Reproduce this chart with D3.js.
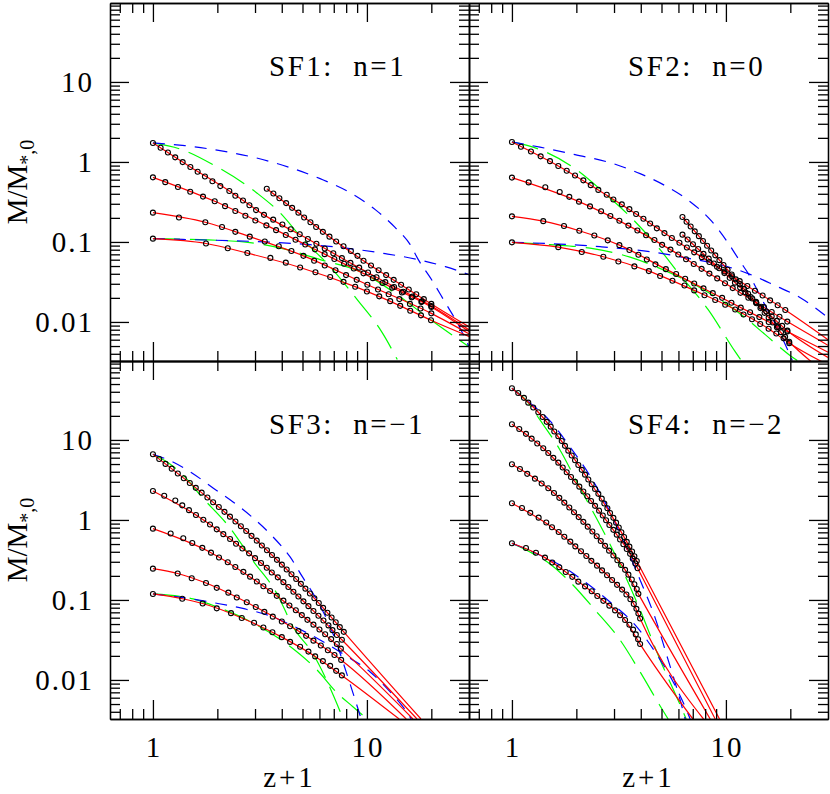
<!DOCTYPE html>
<html>
<head>
<meta charset="utf-8">
<script src="https://cdn.jsdelivr.net/npm/d3@7"></script>
<style>
  body { margin: 0; background: #fff; }
  text { font-family: "Liberation Serif", "Times New Roman", Times, serif; fill: #000; }
</style>
</head>
<body>
<svg id="chart" width="830" height="794"></svg>
<script>
// ---- axis ticks and labels ----
const xMajor = [1, 10];
const xMajorLabels = ["1", "10"];
const xMinor = [0.7, 0.8, 0.9, 2, 3, 4, 5, 6, 7, 8, 9, 20];
const yMajor = [0.01, 0.1, 1, 10];
const yMajorLabels = ["0.01", "0.1", "1", "10"];
const yMinor = [0.004, 0.005, 0.006, 0.007, 0.008, 0.009,
  0.02, 0.03, 0.04, 0.05, 0.06, 0.07, 0.08, 0.09,
  0.2, 0.3, 0.4, 0.5, 0.6, 0.7, 0.8, 0.9,
  2, 3, 4, 5, 6, 7, 8, 9,
  20, 30, 40, 50, 60, 70, 80, 90];
const titles = ["SF1:  n=1", "SF2:  n=0", "SF3:  n=\u22121", "SF4:  n=\u22122"];

// ---- SF1 ----
const sf1aX = [1,1.086,1.175,1.271,1.377,1.496,1.618,1.75,1.897,2.065,2.275,2.427,2.636,2.825,3.034,3.304,3.648,4.027,4.406,4.853,5.297,5.808,6.353,6.966,7.638,8.375,9.204,10.12,11.09,12.19,13.4,14.79,16.33,18.07,20.0];
const sf1aY = [1.728,1.505,1.311,1.142,0.995,0.866,0.755,0.657,0.573,0.499,0.434,0.378,0.33,0.287,0.25,0.218,0.19,0.165,0.144,0.125,0.109,0.0951,0.0828,0.0721,0.0628,0.0547,0.0477,0.0415,0.0362,0.0315,0.0274,0.0239,0.0208,0.0181,0.0158];
const sf1aFit = [[1,1.728],[1.496,0.866],[2.275,0.434],[3.304,0.218],[5.297,0.109],[8.375,0.0547],[12.19,0.0315],[20,0.0158],[30,0.008]];
const sf1bX = [1,1.142,1.309,1.494,1.714,1.944,2.173,2.427,2.704,3.01,3.39,3.763,4.178,4.639,5.15,5.716,6.346,7.045,7.822,8.684,9.64,10.66,11.83,13.14,14.58,16.19,17.97,20.01];
const sf1bY = [0.642,0.559,0.487,0.424,0.369,0.322,0.28,0.244,0.2126,0.185,0.161,0.1404,0.1223,0.1065,0.0928,0.0808,0.0704,0.0613,0.0534,0.0465,0.0405,0.0353,0.0307,0.0268,0.0233,0.0203,0.0177,0.0154];
const sf1bFit = [[1,0.642],[1.944,0.322],[3.39,0.161],[6.346,0.0704],[11.83,0.0307],[20,0.0154],[30,0.0076]];
const sf1cX = [1,1.323,1.757,2.103,2.427,2.835,3.332,3.874,4.438,5.05,5.667,6.353,7.131,7.991,8.96,10.05,11.27,12.64,14.18,15.89,17.81,20.0];
const sf1cY = [0.2323,0.2023,0.1762,0.1535,0.1337,0.1164,0.1014,0.0883,0.0769,0.067,0.0583,0.0508,0.0443,0.0385,0.0336,0.0292,0.0255,0.0222,0.0193,0.0168,0.0147,0.0128];
const sf1cFit = [[1,0.2323],[1.757,0.1762],[2.835,0.1164],[5.05,0.067],[10.05,0.0292],[20,0.0128],[30,0.0071]];
const sf1dX = [1,1.77,2.237,2.762,3.539,4.178,4.874,5.748,6.734,7.773,8.816,10,11.42,12.85,14.31,15.94,17.89,19.93];
const sf1dY = [0.1099,0.0957,0.0834,0.0726,0.0632,0.0551,0.048,0.0418,0.0364,0.0317,0.0276,0.024,0.0209,0.0182,0.0159,0.0138,0.0121,0.0105];
const sf1dFit = [[1,0.1099],[1.77,0.0957],[2.762,0.0726],[4.874,0.048],[8.816,0.0276],[14.31,0.0159],[19.93,0.0105],[30,0.0066]];
const sf1eX = [3.404,3.655,3.899,4.193,4.472,4.785,5.089,5.446,5.79,6.225,6.683,7.183,7.773,8.417,9.036,9.641,10.45,11.34,12.3,13.34,14.45,15.69,17.01,18.45,20.0];
const sf1eY = [0.463,0.404,0.352,0.306,0.267,0.2323,0.2023,0.1762,0.1535,0.1337,0.1164,0.1014,0.0883,0.0769,0.067,0.0583,0.0508,0.0443,0.0385,0.0336,0.0292,0.0255,0.0222,0.0193,0.0168];
const sf1eFit = [[3.404,0.463],[4.785,0.2323],[6.683,0.1164],[9.641,0.0583],[14.45,0.0292],[20,0.0168],[30,0.0087]];
const sf1BlueA = [[1,1.728],[1.411,1.599],[2.059,1.385],[3.002,1.132],[4.376,0.849],[6.045,0.618],[8.354,0.413],[10.94,0.2533],[13.57,0.151],[15.94,0.0925],[17.38,0.0601],[19.78,0.0358],[23.25,0.0174],[26.75,0.00925],[30,0.0049]];
const sf1BlueB = [[1,0.11],[1.489,0.1069],[2.293,0.1038],[3.528,0.0994],[5.428,0.0925],[8.354,0.0824],[12.18,0.0714],[17.38,0.0601],[23.25,0.0491],[30,0.039]];
const sf1GreenA = [[1,1.728],[1.367,1.425],[1.909,0.925],[3.058,0.41],[3.929,0.2312],[5.034,0.107],[6.734,0.0491],[9.008,0.019],[11.79,0.00735],[13.86,0.0034]];
const sf1GreenB = [[1,0.11],[1.66,0.1069],[2.843,0.098],[4.236,0.0801],[6.045,0.0601],[9.305,0.0425],[13.86,0.0219],[19.78,0.0107],[30,0.0049]];

// ---- SF2 ----
const sf2aX = [1,1.102,1.227,1.362,1.506,1.647,1.803,1.972,2.156,2.335,2.534,2.774,2.979,3.262,3.539,3.805,4.116,4.424,4.756,5.161,5.589,6.065,6.57,7.108,7.716,8.372,9.088,9.851,10.69,11.6,12.59,13.67,14.84,16.09,17.46,18.95];
const sf2aY = [1.778,1.549,1.349,1.175,1.023,0.891,0.776,0.676,0.589,0.513,0.447,0.389,0.339,0.295,0.257,0.224,0.195,0.17,0.148,0.129,0.112,0.0977,0.0851,0.0741,0.0646,0.0562,0.049,0.0427,0.0372,0.0324,0.0282,0.0245,0.0214,0.0186,0.0162,0.0141];
const sf2aFit = [[1,1.778],[1.647,0.891],[2.534,0.447],[3.805,0.224],[5.589,0.112],[8.372,0.0562],[12.59,0.0282],[18.95,0.0141],[30,0.006]];
const sf2bX = [1,1.197,1.432,1.672,1.854,2.058,2.317,2.61,2.884,3.178,3.501,3.857,4.236,4.634,5.034,5.505,5.99,6.512,7.076,7.697,8.372,9.107,9.904,10.76,11.7,12.73,13.85,15.06,16.37,17.8,19.36];
const sf2bY = [0.637,0.555,0.483,0.421,0.366,0.319,0.278,0.242,0.211,0.1837,0.16,0.1393,0.1213,0.1057,0.092,0.0802,0.0698,0.0608,0.053,0.0461,0.0402,0.035,0.0305,0.0265,0.0231,0.0201,0.0175,0.0153,0.0133,0.0116,0.0101];
const sf2bFit = [[1,0.637],[2.058,0.319],[3.501,0.16],[5.505,0.0802],[8.372,0.0402],[12.73,0.0201],[19.36,0.0101],[30,0.0051]];
const sf2cX = [1,1.401,1.751,2.065,2.427,2.804,3.178,3.54,3.899,4.269,4.685,5.24,5.853,6.45,7.108,7.857,8.684,9.601,10.61,11.73,12.97,14.33,15.85,17.51,19.36];
const sf2cY = [0.209,0.182,0.1585,0.138,0.1202,0.1047,0.0912,0.0794,0.0692,0.0603,0.0525,0.0457,0.0398,0.0347,0.0302,0.0263,0.0229,0.02,0.0174,0.0151,0.0132,0.0115,0.01,0.0087,0.00759];
const sf2cFit = [[1,0.209],[1.401,0.182],[2.065,0.138],[3.178,0.0912],[5.24,0.0457],[8.684,0.0229],[14.33,0.0115],[19.36,0.00759],[30,0.0042]];
const sf2dX = [1,1.647,2.12,2.674,3.144,3.735,4.363,4.927,5.625,6.403,7.108,7.943,8.913,9.924,11.05,12.09,13.24,14.47,15.83,17.2,18.6,19.78];
const sf2dY = [0.0989,0.0861,0.075,0.0653,0.0569,0.0495,0.0432,0.0376,0.0327,0.0285,0.0248,0.0216,0.0188,0.0164,0.0143,0.0124,0.0108,0.00944,0.00822,0.00716,0.00624,0.00543];
const sf2dFit = [[1,0.0989],[1.647,0.0861],[2.674,0.0653],[4.363,0.0432],[7.108,0.0248],[11.05,0.0143],[15.83,0.00822],[19.78,0.00543],[28,0.0032]];
const sf2eX = [6.265,6.548,6.843,7.152,7.476,7.813,8.166,8.535,8.92,9.324,9.745,10.18,10.64,11.12,11.63,12.15,12.7,13.28,13.88,14.5,15.16,15.84,16.56,17.31,18.09,18.91,19.76];
const sf2eY = [0.2054,0.1789,0.1558,0.1357,0.1181,0.1029,0.0896,0.0781,0.068,0.0592,0.0516,0.0449,0.0391,0.0341,0.0297,0.0259,0.0225,0.0196,0.0171,0.0149,0.013,0.0113,0.00983,0.00856,0.00746,0.0065,0.00566];
const sf2eFit = [[6.265,0.2054],[7.813,0.1029],[9.745,0.0516],[12.15,0.0259],[15.16,0.013],[19.76,0.00566],[25,0.0032]];
const sf2fX = [6.266,6.625,7.015,7.419,7.856,8.31,8.788,9.305,9.84,10.42,11.02,11.65,12.34,13.05,13.82,14.61,15.45,16.37,17.31,18.32,19.38];
const sf2fY = [0.1233,0.1074,0.0935,0.0815,0.071,0.0618,0.0538,0.0469,0.0408,0.0356,0.031,0.027,0.0235,0.0205,0.0178,0.0155,0.0135,0.0118,0.0103,0.00893,0.00778];
const sf2fFit = [[6.266,0.1233],[8.31,0.0618],[11.02,0.031],[14.61,0.0155],[19.38,0.00778],[30,0.0036]];
const sf2BlueA = [[1,1.778],[1.352,1.531],[1.972,1.234],[2.874,0.98],[3.972,0.714],[5.2,0.5054],[6.808,0.3189],[8.445,0.19],[10.14,0.1009],[11.67,0.0567],[12.72,0.0402],[15.27,0.016],[17.57,0.008],[20.43,0.0033]];
const sf2BlueB = [[1,0.0989],[1.506,0.0952],[2.581,0.0873],[4.424,0.0756],[6.808,0.0618],[9.404,0.052],[12.72,0.0402],[17.01,0.0284],[22.27,0.0201],[30,0.0113]];
const sf2GreenA = [[1,1.778],[1.352,1.425],[1.972,0.8246],[2.695,0.4133],[3.724,0.1846],[4.927,0.0801],[5.981,0.0413],[8.263,0.01425],[11.05,0.00425],[11.79,0.0033]];
const sf2GreenB = [[1,0.0989],[1.506,0.0925],[2.317,0.0836],[3.566,0.0646],[5.2,0.0438],[7.58,0.0268],[9.714,0.0179],[12.31,0.0113],[15.27,0.00694],[20.0,0.00379],[21.56,0.0033]];

// ---- SF3 ----
const sf3aX = [1,1.07,1.145,1.224,1.307,1.394,1.487,1.586,1.689,1.797,1.911,2.032,2.159,2.291,2.43,2.576,2.729,2.888,3.055,3.229,3.411,3.6,3.798,4.004,4.218,4.441,4.672,4.913,5.159,5.416,5.682,5.958,6.243,6.536,6.838,7.149,7.469,7.797];
const sf3aY = [6.62,5.77,5.02,4.375,3.81,3.32,2.89,2.518,2.193,1.91,1.663,1.449,1.262,1.099,0.957,0.834,0.726,0.632,0.551,0.48,0.418,0.364,0.317,0.276,0.2404,0.2094,0.1824,0.1589,0.1384,0.1205,0.105,0.0914,0.0796,0.0693,0.0604,0.0526,0.0458,0.0399];
const sf3aFit = [[1,6.62],[1.586,2.518],[2.43,0.957],[3.411,0.418],[4.672,0.1824],[6.243,0.0796],[7.797,0.0399],[17.89,0.00325]];
const sf3bX = [1,1.129,1.272,1.371,1.474,1.589,1.72,1.848,1.987,2.133,2.293,2.446,2.618,2.814,3.001,3.2,3.404,3.593,3.833,4.071,4.296,4.534,4.785,5.05,5.33,5.625,5.936,6.265,6.612,6.902,7.237,7.638];
const sf3bY = [2.304,2.007,1.748,1.522,1.326,1.155,1.006,0.876,0.763,0.6646,0.5788,0.5041,0.439,0.3824,0.333,0.29,0.2526,0.22,0.1916,0.1669,0.1453,0.1266,0.1103,0.0961,0.0837,0.0729,0.0635,0.0553,0.0481,0.0419,0.0365,0.0318];
const sf3bFit = [[1,2.304],[1.589,1.155],[2.293,0.5788],[3.2,0.29],[4.296,0.1453],[5.625,0.0729],[7.638,0.0318],[17.14,0.00325]];
const sf3cX = [1,1.21,1.386,1.527,1.701,1.868,2.036,2.237,2.427,2.646,2.844,3.058,3.282,3.528,3.792,4.071,4.343,4.654,4.963,5.272,5.625,6.001,6.381,6.806,7.237,7.556];
const sf3cY = [0.778,0.6776,0.5902,0.514,0.4477,0.39,0.3396,0.2958,0.2576,0.2244,0.1954,0.1702,0.1483,0.1291,0.1125,0.098,0.0853,0.0743,0.0647,0.0564,0.0491,0.0428,0.0372,0.0324,0.0282,0.0246];
const sf3cFit = [[1,0.778],[1.868,0.39],[3.058,0.1702],[4.343,0.0853],[5.625,0.0491],[7.556,0.0246],[16.42,0.00325]];
const sf3dX = [1,1.305,1.518,1.77,1.987,2.251,2.465,2.745,3.024,3.317,3.632,4.002,4.376,4.785,5.2,5.625,6.09,6.57,7.053,7.58];
const sf3dY = [0.246,0.2143,0.1866,0.1626,0.1416,0.1233,0.1074,0.0935,0.0815,0.071,0.0618,0.0538,0.0469,0.0408,0.0356,0.031,0.027,0.0235,0.0205,0.0178];
const sf3dFit = [[1,0.246],[1.305,0.2143],[1.77,0.1626],[3.024,0.0815],[4.785,0.0408],[7.58,0.0178],[15.27,0.00325]];
const sf3eX = [1,1.371,1.708,1.987,2.317,2.601,2.969,3.282,3.617,4.002,4.376,4.874,5.33,5.73,6.225,6.734,7.183,7.638];
const sf3eY = [0.1189,0.1035,0.0902,0.0785,0.0684,0.0596,0.0519,0.0452,0.0394,0.0343,0.0299,0.026,0.0226,0.0197,0.0172,0.015,0.013,0.0114];
const sf3eFit = [[1,0.1189],[1.371,0.1035],[1.708,0.0902],[2.601,0.0596],[4.002,0.0343],[5.73,0.0197],[7.638,0.0114],[14.16,0.00325]];
const sf3BlueA = [[1,6.62],[1.24,5.31],[1.522,3.868],[1.909,2.512],[2.368,1.679],[2.938,1.059],[3.643,0.613],[4.376,0.3447],[5.034,0.1884],[5.73,0.109],[6.451,0.0596],[7.183,0.0299],[8.0,0.0126],[8.816,0.00562],[9.404,0.00325]];
const sf3BlueB = [[1,0.1189],[1.411,0.1059],[1.95,0.0917],[2.695,0.0772],[3.528,0.0631],[4.618,0.046],[6.045,0.0316],[8.0,0.01995],[10.36,0.0126],[12.85,0.00708],[15.11,0.00422],[16.12,0.00325]];
const sf3GreenA = [[1,6.62],[1.201,5.012],[1.411,3.447],[1.66,2.054],[2.293,0.794],[2.938,0.3073],[3.804,0.1189],[4.52,0.046],[5.607,0.0211],[6.956,0.0065],[7.747,0.00325]];
const sf3GreenB = [[1,0.1189],[1.539,0.1029],[1.993,0.0818],[2.938,0.0516],[4.282,0.0274],[5.852,0.0133],[7.261,0.00688],[8.628,0.0046],[10.03,0.00325]];

// ---- SF4 ----
const sf4aX = [1,1.07,1.138,1.192,1.258,1.328,1.392,1.454,1.518,1.577,1.647,1.709,1.77,1.834,1.903,1.972,2.043,2.12,2.196,2.275,2.36,2.446,2.534,2.629,2.703,2.793,2.874,2.979,3.067,3.157,3.247,3.343,3.441,3.539,3.643,3.735,3.832];
const sf4aY = [44.26,38.55,33.57,29.24,25.47,22.18,19.32,16.83,14.66,12.76,11.12,9.683,8.433,7.345,6.397,5.572,4.853,4.227,3.681,3.206,2.793,2.432,2.118,1.845,1.607,1.4,1.219,1.062,0.9247,0.8054,0.7015,0.6109,0.5321,0.4634,0.4036,0.3516,0.3062];
const sf4aFit = [[1,44.26],[1.328,22.18],[1.77,8.433],[2.275,3.206],[2.874,1.219],[3.441,0.5321],[3.832,0.3062],[9.333,0.00325]];
const sf4bX = [1,1.082,1.163,1.236,1.313,1.401,1.479,1.561,1.647,1.727,1.803,1.888,1.972,2.065,2.156,2.251,2.343,2.446,2.554,2.658,2.754,2.854,2.979,3.09,3.201,3.318,3.44,3.566,3.671,3.772,3.867];
const sf4bY = [15.7,13.68,11.91,10.38,9.036,7.87,6.855,5.97,5.2,4.529,3.945,3.436,2.992,2.606,2.27,1.977,1.722,1.5,1.306,1.138,0.9908,0.863,0.7516,0.6546,0.5702,0.4966,0.4325,0.3767,0.3281,0.2858,0.2489];
const sf4bFit = [[1,15.7],[1.401,7.87],[1.888,3.436],[2.446,1.5],[3.09,0.6546],[3.566,0.3767],[3.867,0.2489],[8.913,0.00325]];
const sf4cX = [1,1.09,1.179,1.281,1.377,1.479,1.572,1.665,1.757,1.854,1.95,2.051,2.156,2.261,2.376,2.49,2.601,2.724,2.844,2.979,3.11,3.237,3.379,3.502,3.632,3.735,3.832,3.899];
const sf4cY = [4.966,4.325,3.767,3.281,2.858,2.489,2.168,1.888,1.644,1.432,1.247,1.086,0.9462,0.8241,0.7178,0.6252,0.5445,0.4742,0.413,0.3597,0.3133,0.2729,0.2377,0.207,0.1803,0.157,0.1368,0.1191];
const sf4cFit = [[1,4.966],[1.479,2.489],[2.051,1.086],[2.724,0.4742],[3.379,0.2377],[3.899,0.1191],[8.445,0.00325]];
const sf4dX = [1,1.114,1.218,1.333,1.447,1.539,1.654,1.757,1.874,1.978,2.103,2.227,2.35,2.499,2.637,2.783,2.938,3.1,3.272,3.427,3.578,3.711,3.817,3.899,3.972];
const sf4dY = [1.618,1.409,1.227,1.069,0.9311,0.811,0.7063,0.6152,0.5358,0.4667,0.4064,0.354,0.3083,0.2685,0.2339,0.2037,0.1774,0.1545,0.1346,0.1172,0.1021,0.0889,0.0774,0.0675,0.0587];
const sf4dFit = [[1,1.618],[1.539,0.811],[2.227,0.354],[3.1,0.1545],[3.711,0.0889],[3.972,0.0587],[7.856,0.00325]];
const sf4eX = [1,1.163,1.295,1.427,1.544,1.665,1.784,1.915,2.043,2.196,2.36,2.507,2.674,2.853,3.034,3.201,3.379,3.539,3.683,3.792,3.887,3.972];
const sf4eY = [0.5117,0.4457,0.3882,0.3381,0.2944,0.2564,0.2234,0.1945,0.1694,0.1476,0.1285,0.1119,0.0975,0.0849,0.074,0.0644,0.0561,0.0489,0.0426,0.0371,0.0323,0.0281];
const sf4eFit = [[1,0.5117],[1.427,0.3381],[2.043,0.1694],[2.674,0.0975],[3.379,0.0561],[3.972,0.0281],[7.008,0.00325]];
const sf4BlueA = [[1,44.26],[1.214,29.0],[1.506,17.28],[1.868,8.177],[2.317,3.548],[2.874,1.259],[3.379,0.487],[3.972,0.1778],[4.669,0.0596],[5.37,0.0178],[6.112,0.00562],[6.451,0.00325]];
const sf4BlueB = [[1,0.5117],[1.281,0.3869],[1.677,0.2738],[2.196,0.1679],[2.874,0.0944],[3.763,0.0487],[4.669,0.0224],[5.607,0.01],[6.451,0.0046],[6.806,0.00325]];
const sf4GreenA = [[1,44.26],[1.15,32.54],[1.352,17.78],[1.677,7.499],[2.08,2.512],[2.581,0.866],[3.201,0.2738],[3.972,0.075],[4.927,0.0178],[6.112,0.00487],[6.521,0.00325]];
const sf4GreenB = [[1,0.5117],[1.214,0.3981],[1.506,0.2818],[1.868,0.1679],[2.446,0.075],[3.201,0.0316],[3.972,0.0126],[4.927,0.00473],[5.37,0.00325]];

// panel table built from the arrays above
const panels = [
  {x0: 110, y0: 3, left: true, bottom: false, title: titles[0],
   runs: [[sf1aX, sf1aY, sf1aFit], [sf1bX, sf1bY, sf1bFit], [sf1cX, sf1cY, sf1cFit], [sf1dX, sf1dY, sf1dFit], [sf1eX, sf1eY, sf1eFit]],
   blue: [sf1BlueA, sf1BlueB], green: [sf1GreenA, sf1GreenB]},
  {x0: 469, y0: 3, left: false, bottom: false, title: titles[1],
   runs: [[sf2aX, sf2aY, sf2aFit], [sf2bX, sf2bY, sf2bFit], [sf2cX, sf2cY, sf2cFit], [sf2dX, sf2dY, sf2dFit], [sf2eX, sf2eY, sf2eFit], [sf2fX, sf2fY, sf2fFit]],
   blue: [sf2BlueA, sf2BlueB], green: [sf2GreenA, sf2GreenB]},
  {x0: 110, y0: 361, left: true, bottom: true, title: titles[2],
   runs: [[sf3aX, sf3aY, sf3aFit], [sf3bX, sf3bY, sf3bFit], [sf3cX, sf3cY, sf3cFit], [sf3dX, sf3dY, sf3dFit], [sf3eX, sf3eY, sf3eFit]],
   blue: [sf3BlueA, sf3BlueB], green: [sf3GreenA, sf3GreenB]},
  {x0: 469, y0: 361, left: false, bottom: true, title: titles[3],
   runs: [[sf4aX, sf4aY, sf4aFit], [sf4bX, sf4bY, sf4bFit], [sf4cX, sf4cY, sf4cFit], [sf4dX, sf4dY, sf4dFit], [sf4eX, sf4eY, sf4eFit]],
   blue: [sf4BlueA, sf4BlueB], green: [sf4GreenA, sf4GreenB]}
];

const W = 359, H = 358;
const FONT = "'Liberation Serif', 'Times New Roman', Times, serif";
const svg = d3.select("#chart");
const defs = svg.append("defs");

function drawPanel(p, i) {
  const x = d3.scaleLog().domain([0.63, 30]).range([p.x0, p.x0 + W]);
  const y = d3.scaleLog().domain([0.00325, 97]).range([p.y0 + H, p.y0]);

  defs.append("clipPath").attr("id", "clip" + i)
    .append("rect").attr("x", p.x0).attr("y", p.y0).attr("width", W).attr("height", H);

  const plot = svg.append("g").attr("clip-path", "url(#clip" + i + ")");
  const line = d3.line()
    .x(function(d) { return x(d[0]); })
    .y(function(d) { return y(d[1]); })
    .curve(d3.curveMonotoneX);

  // green long dashes
  p.green.forEach(function(s) {
    plot.append("path").attr("d", line(s))
      .attr("fill", "none").attr("stroke", "#00ff00")
      .attr("stroke-width", 1.2).attr("stroke-dasharray", "27,10");
  });
  // blue short dashes
  p.blue.forEach(function(s) {
    plot.append("path").attr("d", line(s))
      .attr("fill", "none").attr("stroke", "#0000ff")
      .attr("stroke-width", 1.2).attr("stroke-dasharray", "12,9");
  });
  // red fits
  p.runs.forEach(function(r) {
    plot.append("path").attr("d", line(r[2]))
      .attr("fill", "none").attr("stroke", "#ff0000").attr("stroke-width", 1.2);
  });
  // circles
  p.runs.forEach(function(r) {
    plot.append("g").selectAll("circle")
      .data(d3.zip(r[0], r[1]))
      .enter().append("circle")
      .attr("cx", function(d) { return x(d[0]); })
      .attr("cy", function(d) { return y(d[1]); })
      .attr("r", 2.5)
      .attr("fill", "none").attr("stroke", "#000").attr("stroke-width", 1.1);
  });

  // ticks on all four sides, pointing inward
  const axes = [
    [d3.axisBottom, x, "translate(0," + (p.y0 + H) + ")"],
    [d3.axisTop, x, "translate(0," + p.y0 + ")"],
    [d3.axisLeft, y, "translate(" + p.x0 + ",0)"],
    [d3.axisRight, y, "translate(" + (p.x0 + W) + ",0)"]
  ];
  axes.forEach(function(a) {
    const isX = a[1] === x;
    const major = isX ? xMajor : yMajor;
    const minor = isX ? xMinor : yMinor;
    [[major, 19], [minor, 10]].forEach(function(t) {
      svg.append("g").attr("transform", a[2])
        .call(a[0](a[1]).tickValues(t[0]).tickFormat("").tickSizeInner(-t[1]).tickSizeOuter(0))
        .call(function(g) {
          g.selectAll("line, path").attr("stroke", "#000").attr("stroke-width", 1.3);
        });
    });
  });

  // tick labels
  if (p.left) {
    yMajor.forEach(function(v, k) {
      svg.append("text")
        .attr("x", 94).attr("y", y(v) + 10)
        .attr("text-anchor", "end")
        .attr("font-family", FONT)
        .style("font-size", "29px").style("letter-spacing", "2px")
        .text(yMajorLabels[k]);
    });
    svg.append("text")
      .attr("transform", "translate(27," + (p.y0 + 179) + ") rotate(-90)")
      .attr("text-anchor", "middle")
      .attr("font-family", FONT)
      .style("font-size", "29px")
      .call(function(t) {
        t.append("tspan").text("M/M");
        t.append("tspan").attr("dy", 7).style("font-size", "20px").text("*,0");
      });
  }
  if (p.bottom) {
    xMajor.forEach(function(v, k) {
      svg.append("text")
        .attr("x", x(v) + 1).attr("y", 757)
        .attr("text-anchor", "middle")
        .attr("font-family", FONT)
        .style("font-size", "29px").style("letter-spacing", "2px")
        .text(xMajorLabels[k]);
    });
    svg.append("text")
      .attr("x", p.x0 + W / 2).attr("y", 787)
      .attr("text-anchor", "middle")
      .attr("font-family", FONT)
      .style("font-size", "29px").style("letter-spacing", "3px")
      .text("z+1");
  }

  // panel title
  svg.append("text")
    .attr("x", p.x0 + 159).attr("y", p.y0 + 73)
    .attr("font-family", FONT)
    .style("font-size", "29px").style("letter-spacing", "2.5px")
    .style("white-space", "pre")
    .text(p.title);
}

panels.forEach(drawPanel);
</script>
</body>
</html>
